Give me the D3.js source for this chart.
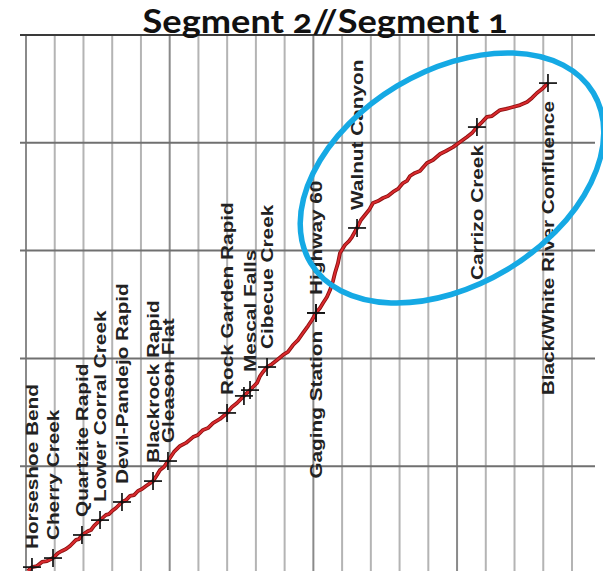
<!DOCTYPE html>
<html>
<head>
<meta charset="utf-8">
<script src="https://cdn.jsdelivr.net/npm/d3@7"></script>
<style>
  html, body { margin: 0; padding: 0; background: #fff; }
  svg { display: block; }
</style>
</head>
<body>
<svg id="chart" width="603" height="571"></svg>
<script>
// ---------------- DATA ----------------
const titleText = "Segment 2//Segment 1";

// River profile: distance (miles upstream) and water-surface elevation (ft)
const profileMiles = [0.17,0.52,0.96,1.39,1.83,2.35,2.78,3.13,3.48,3.83,
  4.35,4.61,4.87,5.39,5.65,5.92,6.44,6.96,7.22,7.48,
  7.83,8.35,8.70,9.05,9.40,9.74,10.09,10.44,11.05,11.40,
  11.66,12.00,12.35,12.87,13.40,13.92,14.53,14.96,15.40,15.83,
  16.27,16.88,17.49,17.92,18.36,18.96,19.49,19.83,20.10,20.36,
  20.62,20.97,21.40,21.84,22.36,22.79,23.23,23.66,24.10,24.53,
  24.88,25.23,25.58,25.84,26.18,26.45,26.71,26.88,27.14,27.32,
  27.75,28.10,28.36,28.80,29.14,29.49,29.84,30.19,30.62,31.06,
  31.49,31.93,32.36,32.80,33.14,33.41,33.84,34.27,34.88,35.41,
  36.02,36.54,37.15,37.76,38.36,38.80,39.23,39.67,40.10,40.54,
  41.24,41.76,42.37,42.98,43.59,44.02,44.45,44.89,45.41];
const profileElev = [2014,2032,2037,2056,2060,2074,2097,2107,2116,2130,
  2158,2162,2181,2199,2204,2223,2250,2274,2278,2292,
  2306,2334,2343,2362,2366,2385,2394,2408,2431,2459,
  2482,2496,2524,2566,2594,2608,2635,2645,2668,2677,
  2700,2719,2747,2775,2793,2826,2853,2872,2886,2918,
  2937,2960,2974,2993,3016,3030,3062,3085,3118,3150,
  3178,3211,3234,3257,3285,3317,3359,3396,3442,3489,
  3526,3544,3563,3605,3642,3665,3688,3721,3730,3744,
  3753,3772,3786,3813,3823,3846,3860,3869,3906,3920,
  3948,3962,3980,4004,4027,4045,4073,4096,4120,4124,
  4152,4157,4166,4175,4189,4208,4231,4249,4277];

// Named stations along the profile
const stationNames = ["Horseshoe Bend","Cherry Creek","Quartzite Rapid","Lower Corral Creek",
  "Devil-Pandejo Rapid","Blackrock Rapid","Gleason Flat","Rock Garden Rapid","",
  "Mescal Falls","Cibecue Creek","Gaging Station","Highway 60","Walnut Canyon",
  "Carrizo Creek","Black/White River Confluence"];
const stationMiles = [0.52,2.35,4.87,6.44,8.35,11.05,12.35,17.49,18.96,19.49,20.97,25.23,25.23,28.80,39.23,45.41];
const stationElev  = [2032,2074,2181,2250,2334,2431,2524,2747,2826,2853,2960,3211,3211,3605,4073,4277];
const stationSide  = ["above","above","above","above","above","above","above","above","above",
  "above","above","below","above","above","below","below"];

// Grid values
const xGridMiles = [0,2.5,5,7.5,10,12.5,15,17.5,20,22.5,25,27.5,30,32.5,35,37.5,40,42.5,45,47.5];
const yGridElev = [2500,3000,3500,4000,4500];

// Highlighted reach (ellipse centre, in data units)
const highlightCenter = [37.06, 3837];

// ---------------- CHART ----------------
const W = 603, H = 571;
const svg = d3.select("#chart");

const x = d3.scaleLinear().domain([0, 47.5]).range([26, 572]);
const y = d3.scaleLinear().domain([2000, 4500]).range([574, 35]);

const gridLeft = 20, gridRight = 595;

// vertical grid
svg.append("g").selectAll("line").data(xGridMiles).join("line")
  .attr("x1", d => x(d)).attr("x2", d => x(d))
  .attr("y1", y(4500)).attr("y2", H)
  .attr("stroke", (d, i) => i % 5 === 0 ? "#8a8a8a" : "#b4b4b4")
  .attr("stroke-width", 2);

// horizontal grid
svg.append("g").selectAll("line").data(yGridElev).join("line")
  .attr("x1", gridLeft).attr("x2", gridRight)
  .attr("y1", d => y(d)).attr("y2", d => y(d))
  .attr("stroke", d => d === 4500 ? "#3a3a3a" : "#707070")
  .attr("stroke-width", 2);

// profile line
const pts = profileMiles.map((m, i) => [m, profileElev[i]]);
const line = d3.line().x(d => x(d[0])).y(d => y(d[1]));
svg.append("path").datum(pts)
  .attr("d", line)
  .attr("fill", "none")
  .attr("stroke", "#8c1010")
  .attr("stroke-width", 3.8)
  .attr("stroke-linejoin", "round");
svg.append("path").datum(pts)
  .attr("d", line)
  .attr("fill", "none")
  .attr("stroke", "#da2a2e")
  .attr("stroke-width", 2)
  .attr("stroke-linejoin", "round");

// station markers
const stations = stationNames.map((n, i) => ({
  name: n, m: stationMiles[i], e: stationElev[i], side: stationSide[i]
}));
const mk = svg.append("g").attr("stroke", "#111").attr("stroke-width", 1.7);
stations.forEach(s => {
  const cx = x(s.m), cy = y(s.e);
  mk.append("line").attr("x1", cx - 9).attr("x2", cx + 9).attr("y1", cy).attr("y2", cy);
  mk.append("line").attr("x1", cx).attr("x2", cx).attr("y1", cy - 9).attr("y2", cy + 9);
});

// station labels (rotated, reading upward)
const gap = 18, stretch = 1.26;
const lab = svg.append("g");
stations.filter(s => s.name).forEach(s => {
  const cx = x(s.m), cy = y(s.e);
  const g = lab.append("g")
    .attr("transform", `translate(${cx},${cy}) rotate(-90) scale(${stretch},1)`);
  g.append("text")
    .attr("x", s.side === "above" ? gap / stretch : -gap / stretch)
    .attr("y", 0)
    .attr("dy", "0.36em")
    .attr("text-anchor", s.side === "above" ? "start" : "end")
    .attr("font-family", "'Liberation Sans', Arial, sans-serif")
    .attr("font-weight", "bold")
    .attr("font-size", 16.5)
    .attr("fill", "#222")
    .text(s.name);
});

// blue highlight ellipse
svg.append("ellipse")
  .attr("cx", 0).attr("cy", 0).attr("rx", 165).attr("ry", 107)
  .attr("transform", `translate(${x(highlightCenter[0])},${y(highlightCenter[1])}) rotate(-31)`)
  .attr("fill", "none")
  .attr("stroke", "#15a9e4")
  .attr("stroke-width", 5.5);

// title
svg.append("text")
  .attr("x", 325).attr("y", 33)
  .attr("text-anchor", "middle")
  .attr("font-family", "Lato, 'Open Sans', sans-serif")
  .attr("font-weight", "bold")
  .attr("font-size", 32)
  .style("font-variant-numeric", "oldstyle-nums")
  .attr("textLength", 365)
  .attr("lengthAdjust", "spacingAndGlyphs")
  .attr("fill", "#111")
  .text(titleText);
</script>
</body>
</html>
